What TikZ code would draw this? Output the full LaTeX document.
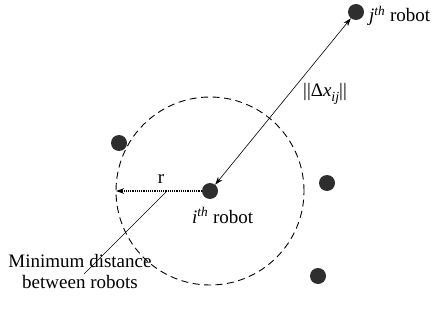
\documentclass[tikz,border=0pt]{standalone}
\usepackage{fontspec}
\setmainfont{Liberation Serif}
\usetikzlibrary{arrows.meta}
\begin{document}
\begin{tikzpicture}[x=1pt,y=-1pt,
  >={Stealth[length=8pt,width=5.5pt]},
  dot/.style={circle,fill=black!82,inner sep=0pt,minimum size=16pt},
  lbl/.style={font=\fontsize{19}{21}\selectfont,inner sep=0pt},
  conn/.style={line width=0.6pt}]
\useasboundingbox (0,0) rectangle (435,320);
\draw[line width=0.9pt, dash pattern=on 7pt off 4.5pt] (210,191) circle[radius=94pt];
\coordinate (cl) at (116,191);
\coordinate (ms) at (167,191);
\coordinate (me) at (84,274);
\node[dot] (ri) at (210,191) {};
\node[dot] (rj) at (356,12) {};
\node[dot] (r1) at (119,143) {};
\node[dot] (r2) at (327,183) {};
\node[dot] (r3) at (318,276) {};
\draw[conn, <->] (ri) -- (rj);
\draw[line width=1.2pt, densely dotted, ->] (ri) -- (cl);
\draw[conn] (ms) -- (me);
\node[lbl, anchor=base] (rl) at (161,183) {r};
\node[lbl, anchor=base west] (il) at (192,223) {\textit{i}\textsuperscript{\textit{th}} robot};
\node[lbl, anchor=base west] (jl) at (369,22) {\textit{j}\textsuperscript{\textit{th}} robot};
\node[lbl, anchor=base west] (dl) at (303,97) {||Δ\textit{x}\raisebox{-0.22em}{\fontsize{14}{14}\selectfont\textit{ij}}||};
\node[lbl, align=center, anchor=base] (mt) at (80,288) {Minimum distance\\between robots};
\end{tikzpicture}
\end{document}
